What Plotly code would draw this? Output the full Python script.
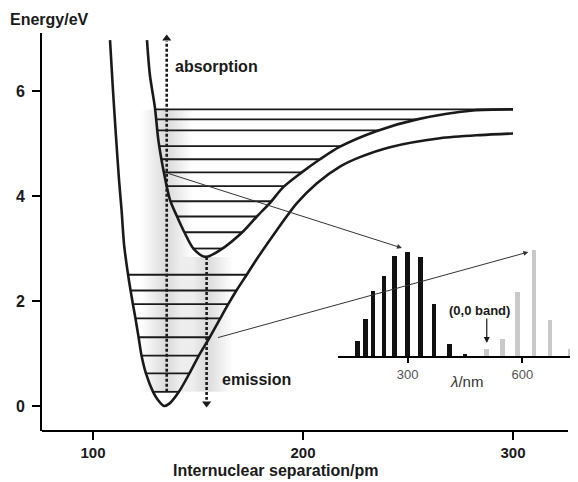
import numpy as np
import plotly.graph_objects as go

FONT = "Liberation Sans, Arial, sans-serif"
INK = "#1a1a1a"

# ---------------- data ----------------
# Ground-state potential curve (internuclear separation / pm, energy / eV)
ground_r = [108.1, 109.5, 110.9, 112.4, 113.6, 114.8, 116.7, 117.9, 119.0, 120.2, 121.7, 123.1,
            125.2, 128.6, 131.0, 133.8, 136.5, 140.9, 145.9, 150.4, 155.6, 160.6, 164.4, 168.3,
            173.2, 178.0, 187.5, 197.0, 206.5, 217.6, 227.1, 241.4, 265.2, 284.3, 300.0]
ground_E = [6.97, 6.02, 5.16, 4.30, 3.73, 3.07, 2.50, 2.20, 1.94, 1.67, 1.31, 0.96,
            0.62, 0.27, 0.11, 0.00, 0.05, 0.27, 0.62, 0.96, 1.31, 1.67, 1.94, 2.20,
            2.50, 2.80, 3.35, 3.86, 4.24, 4.56, 4.74, 4.93, 5.10, 5.16, 5.19]

# Excited-state potential curve
excited_r = [125.7, 127.1, 129.5, 131.1, 133.5, 136.7, 139.9, 143.5, 147.8, 153.6, 160.5,
             171.6, 178.0, 184.3, 190.6, 199.4, 208.1, 217.6, 235.2, 254.3, 280.9, 300.0]
excited_E = [6.97, 6.30, 5.68, 5.07, 4.50, 3.92, 3.62, 3.31, 3.00, 2.84, 2.97,
             3.33, 3.61, 3.87, 4.17, 4.45, 4.70, 4.94, 5.24, 5.46, 5.63, 5.65]

# Vibrational levels (eV)
ground_levels = [0.27, 0.62, 0.96, 1.31, 1.67, 1.94, 2.20, 2.50]
excited_levels = [3.00, 3.31, 3.61, 3.90, 4.19, 4.45, 4.70, 4.95, 5.25, 5.46, 5.65]

# Vertical transitions (pm) and their energy spans (eV)
absorption_r = 135.1
absorption_E = [0.27, 6.95]
absorption_tip = 7.0
emission_r = 154.1
emission_E = [2.84, 0.12]
emission_tip = 0.05

# Inset spectrum (wavelength / nm, relative intensity)
abs_nm = [169, 189, 209, 238, 266, 300, 334, 369, 409, 450]
abs_int = [15, 37, 65, 80, 100, 104, 99, 52, 12, 2]
em_nm = [507, 548, 587, 631, 673, 725]
em_int = [7, 17, 64, 106, 36, 7]
inset_ticks = [300, 600]
main_xticks = [100, 200, 300]
main_yticks = [0, 2, 4, 6]


def split_branches(r, E):
    i = int(np.argmin(E))
    left_r, left_E = r[:i + 1][::-1], E[:i + 1][::-1]
    right_r, right_E = r[i:], E[i:]
    return (left_r, left_E), (right_r, right_E)


def level_segments(levels, r, E):
    (lr, lE), (rr, rE) = split_branches(r, E)
    xs, ys = [], []
    for e in levels:
        xs += [float(np.interp(e, lE, lr)), float(np.interp(e, rE, rr)), None]
        ys += [e, e, None]
    return xs, ys


fig = go.Figure()

# shading (Franck-Condon region), soft gradient made of stacked translucent bands
shapes = []
def band(center, half, y0, y1, alpha):
    shapes.append(dict(type="rect", xref="x", yref="y", x0=center - half, x1=center + half,
                       y0=y0, y1=y1, fillcolor=f"rgba(0,0,0,{alpha})", line=dict(width=0),
                       layer="below"))

for h in np.arange(1.0, 13.0, 1.0):
    band(absorption_r, h, ground_levels[0], excited_levels[-1], 0.012)
for h in np.arange(1.0, 13.0, 1.0):
    band(emission_r, h, ground_levels[0], min(excited_E), 0.012)

# levels
gx, gy = level_segments(ground_levels, ground_r, ground_E)
ex, ey = level_segments(excited_levels, excited_r, excited_E)
fig.add_trace(go.Scatter(x=gx, y=gy, mode="lines", line=dict(color=INK, width=1.8),
                         hoverinfo="skip"))
fig.add_trace(go.Scatter(x=ex, y=ey, mode="lines", line=dict(color=INK, width=1.8),
                         hoverinfo="skip"))

# potential curves
fig.add_trace(go.Scatter(x=ground_r, y=ground_E, mode="lines",
                         line=dict(color=INK, width=2.6, shape="spline", smoothing=0.8)))
fig.add_trace(go.Scatter(x=excited_r, y=excited_E, mode="lines",
                         line=dict(color=INK, width=2.6, shape="spline", smoothing=0.8)))

# dotted transitions
fig.add_trace(go.Scatter(x=[absorption_r, absorption_r], y=absorption_E, mode="lines",
                         line=dict(color=INK, width=2.6, dash="3px,2px")))
fig.add_trace(go.Scatter(x=[absorption_r], y=[absorption_tip], mode="markers",
                         marker=dict(symbol="triangle-up", size=8, color=INK)))
fig.add_trace(go.Scatter(x=[emission_r, emission_r], y=emission_E, mode="lines",
                         line=dict(color=INK, width=2.6, dash="3px,2px")))
fig.add_trace(go.Scatter(x=[emission_r], y=[emission_tip], mode="markers",
                         marker=dict(symbol="triangle-down", size=8, color=INK)))

# inset spectrum
fig.add_trace(go.Bar(x=abs_nm, y=abs_int, width=12, marker=dict(color="#111111", line=dict(width=0)),
                     xaxis="x2", yaxis="y2"))
fig.add_trace(go.Bar(x=em_nm, y=em_int, width=12, marker=dict(color="#c9c9c9", line=dict(width=0)),
                     xaxis="x2", yaxis="y2"))

# Stokes shift bracket caps
for nm in [abs_nm[5], em_nm[3]]:
    shapes.append(dict(type="line", xref="x2", yref="y2", x0=nm, x1=nm, y0=115, y1=132,
                       line=dict(color=INK, width=1.5)))

# main x-axis line
shapes.append(dict(type="line", xref="paper", yref="paper", x0=0, x1=0.985, y0=0, y1=0,
                   line=dict(color="black", width=2)))

annotations = [
    dict(text="Energy/eV", xref="paper", yref="paper", x=-0.064, y=1.033, xanchor="left",
         yanchor="middle", showarrow=False, font=dict(size=16, color=INK, family=FONT, weight="bold")),
    dict(text="Internuclear separation/pm", xref="paper", yref="paper", x=0.438, y=-0.099,
         xanchor="center", yanchor="middle", showarrow=False,
         font=dict(size=16, color=INK, family=FONT, weight="bold")),
    dict(text="absorption", xref="x", yref="y", x=138.1, y=6.46, xanchor="left", yanchor="middle",
         showarrow=False, font=dict(size=16, color=INK, family=FONT, weight="bold")),
    dict(text="emission", xref="x", yref="y", x=160.5, y=0.50, xanchor="left", yanchor="middle",
         showarrow=False, font=dict(size=16, color=INK, family=FONT, weight="bold")),
    dict(text="absorption", xref="x2", yref="y2", x=278, y=155, xanchor="center", yanchor="middle",
         showarrow=False, font=dict(size=16, color=INK, family=FONT, weight="bold")),
    dict(text="emission", xref="x2", yref="y2", x=631, y=155, xanchor="center", yanchor="middle",
         showarrow=False, font=dict(size=16, color=INK, family=FONT, weight="bold")),
    dict(text="Stokes’ shift", xref="x2", yref="y2", x=460, y=133, xanchor="center", yanchor="middle",
         showarrow=False, font=dict(size=13, color=INK, family=FONT, weight="bold")),
    dict(text="(0,0 band)", xref="x2", yref="y2", x=487, y=46, xanchor="center", yanchor="middle",
         showarrow=False, font=dict(size=13, color=INK, family=FONT, weight="bold")),
    dict(text="<i>λ</i>/nm", xref="x2", yref="y2 domain", x=455, y=-0.236, xanchor="center",
         yanchor="middle", showarrow=False, font=dict(size=15, color="#333", family=FONT)),
    # Stokes shift double arrow
    dict(text="", xref="x2", yref="y2", x=em_nm[3], y=123.5, axref="x2", ayref="y2",
         ax=abs_nm[5], ay=123.5, showarrow=True, arrowhead=2, arrowsize=1, arrowwidth=1.3,
         arrowside="end+start", arrowcolor=INK, standoff=1, startstandoff=1),
    # (0,0 band) pointer
    dict(text="", xref="x2", yref="y2", x=em_nm[0], y=13, ax=0, ay=-26, showarrow=True,
         arrowhead=2, arrowsize=1, arrowwidth=1.2, arrowcolor=INK),
    # link lines from potential diagram to spectrum
    dict(text="", xref="x2", yref="y2", x=285, y=108, ax=-235, ay=-75, showarrow=True,
         arrowhead=2, arrowsize=1, arrowwidth=1, arrowcolor="#333"),
    dict(text="", xref="x2", yref="y2", x=616, y=104, ax=-312, ay=86, showarrow=True,
         arrowhead=2, arrowsize=1, arrowwidth=1, arrowcolor="#333"),
]

# the page body has an 8px margin, so the figure is 8px smaller than the window
fig.update_layout(
    width=570, height=474,
    margin=dict(l=34, r=2, t=25, b=51, autoexpand=False),
    paper_bgcolor="white", plot_bgcolor="white",
    showlegend=False, bargap=0,
    shapes=shapes, annotations=annotations,
    font=dict(family=FONT, color=INK),
    xaxis=dict(range=[75.71, 330.0], tickvals=main_xticks, ticks="outside", ticklen=8,
               tickwidth=2, tickcolor="black", showline=False, showgrid=False, zeroline=False,
               automargin=False,
               tickfont=dict(size=15, family=FONT, color=INK, weight="bold")),
    yaxis=dict(range=[-0.476, 7.105], tickvals=main_yticks, ticks="outside", ticklen=8,
               tickwidth=2, tickcolor="black", showline=True, linewidth=2, linecolor="black",
               showgrid=False, zeroline=False, ticklabelstandoff=4, automargin=False,
               tickfont=dict(size=16, family=FONT, color=INK, weight="bold")),
    xaxis2=dict(domain=[0.5543, 0.9981], anchor="y2", range=[117.5, 738], tickvals=inset_ticks,
                ticks="outside", ticklen=5, tickwidth=1.5, tickcolor="black", showline=True,
                linewidth=2, linecolor="black", showgrid=False, zeroline=False, automargin=False,
                tickfont=dict(size=13, family=FONT, color="#555")),
    yaxis2=dict(domain=[0.1884, 0.4648], anchor="x2", range=[0, 110], visible=False,
                automargin=False),
)

fig.write_html("out.html")
